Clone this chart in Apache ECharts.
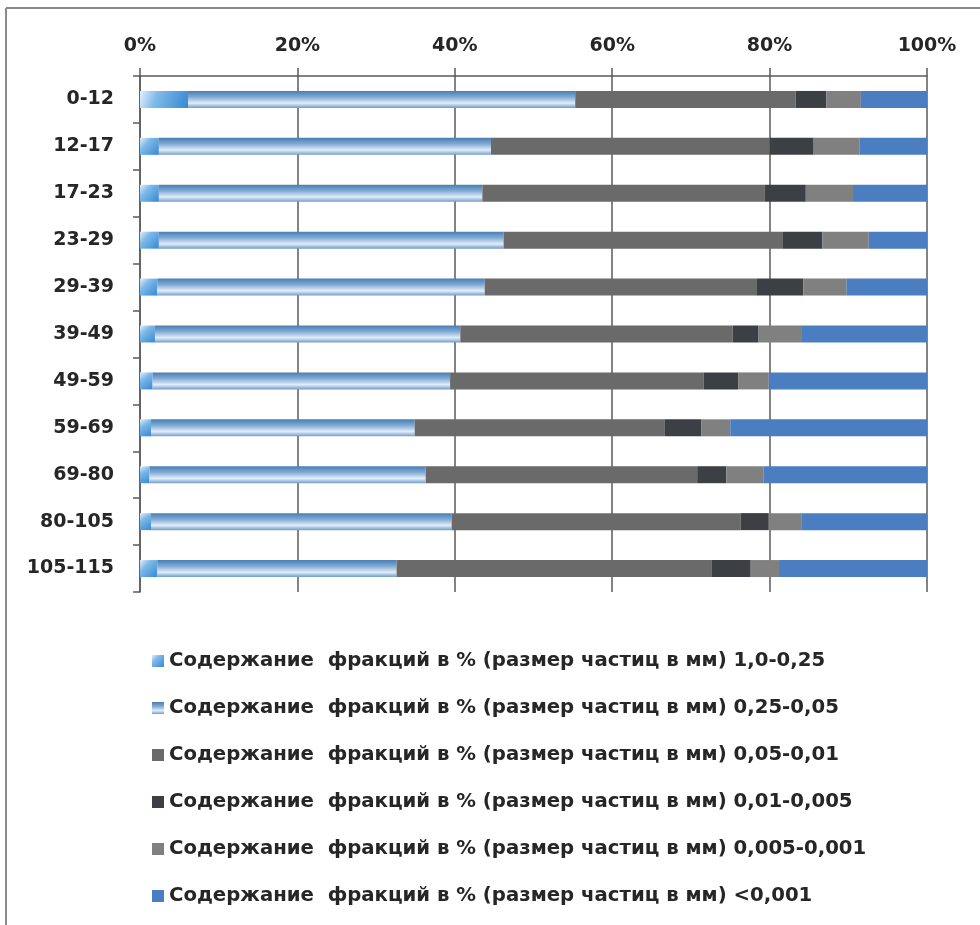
<!DOCTYPE html>
<html>
<head>
<meta charset="utf-8">
<script src="https://cdn.jsdelivr.net/npm/echarts@6/dist/echarts.min.js"></script>
<style>
  html, body { margin: 0; padding: 0; background: #ffffff; }
  #chart { width: 980px; height: 925px; }
</style>
</head>
<body>
<div id="chart"></div>
<script>
// Depth intervals (cm)
const depths = ['0-12', '12-17', '17-23', '23-29', '29-39', '39-49', '49-59', '59-69', '69-80', '80-105', '105-115'];

// Particle-size fractions, % of sample
const frac_1_0_025    = [6.1, 2.4, 2.4, 2.4, 2.2, 1.9, 1.6, 1.4, 1.2, 1.4, 2.2];
const frac_025_005    = [49.2, 42.2, 41.1, 43.8, 41.6, 38.8, 37.8, 33.5, 35.1, 38.2, 30.4];
const frac_005_001    = [28.0, 35.4, 35.9, 35.5, 34.6, 34.6, 32.2, 31.8, 34.5, 36.7, 40.0];
const frac_001_0005   = [3.9, 5.6, 5.2, 5.0, 5.9, 3.3, 4.4, 4.6, 3.7, 3.6, 5.0];
const frac_0005_0001  = [4.4, 5.8, 6.0, 5.9, 5.5, 5.4, 3.9, 3.7, 4.7, 4.2, 3.6];
const frac_lt_0001    = [8.4, 8.6, 9.4, 7.4, 10.2, 16.0, 20.1, 25.0, 20.8, 15.9, 18.8];

const seriesNames = [
  'Содержание  фракций в % (размер частиц в мм) 1,0-0,25',
  'Содержание  фракций в % (размер частиц в мм) 0,25-0,05',
  'Содержание  фракций в % (размер частиц в мм) 0,05-0,01',
  'Содержание  фракций в % (размер частиц в мм) 0,01-0,005',
  'Содержание  фракций в % (размер частиц в мм) 0,005-0,001',
  'Содержание  фракций в % (размер частиц в мм) <0,001'
];
const xTicks = [0, 20, 40, 60, 80, 100];

const FONT = 'DejaVu Sans';

const coarseFill = new echarts.graphic.LinearGradient(0, 0, 1, 1, [
  { offset: 0, color: '#e4effa' },
  { offset: 0.35, color: '#7db9e8' },
  { offset: 1, color: '#3888d2' }
]);
const fineSandFill = new echarts.graphic.LinearGradient(0, 0, 0, 1, [
  { offset: 0, color: '#4a7db3' },
  { offset: 0.35, color: '#7ea9d4' },
  { offset: 0.72, color: '#e2edf8' },
  { offset: 1, color: '#6f9ccb' }
]);

const fills = [coarseFill, fineSandFill, '#6a6a6a', '#3c3f43', '#808080', '#4a7ec0'];
const dataSets = [frac_1_0_025, frac_025_005, frac_005_001, frac_001_0005, frac_0005_0001, frac_lt_0001];

const chart = echarts.init(document.getElementById('chart'), null, { renderer: 'canvas' });

chart.setOption({
  backgroundColor: '#ffffff',
  animation: false,
  textStyle: { fontFamily: FONT },
  grid: { left: 140, right: 53, top: 76, bottom: 333, containLabel: false },
  xAxis: {
    type: 'value',
    position: 'top',
    min: xTicks[0],
    max: xTicks[xTicks.length - 1],
    interval: 20,
    axisLine: { show: true, lineStyle: { color: '#5a5a5a', width: 1.5 } },
    axisTick: { show: true, length: 8, lineStyle: { color: '#5a5a5a', width: 1.5 } },
    axisLabel: { formatter: '{value}%', color: '#262626', fontSize: 19, fontWeight: 'bold', fontFamily: FONT, margin: 20 },
    splitLine: { show: true, lineStyle: { color: '#5a5a5a', width: 1.5 } }
  },
  yAxis: {
    type: 'category',
    inverse: true,
    data: depths,
    axisLine: { show: true, lineStyle: { color: '#5a5a5a', width: 1.5 } },
    axisTick: { show: true, length: 7, lineStyle: { color: '#5a5a5a', width: 1.5 } },
    axisLabel: { color: '#262626', fontSize: 19, fontWeight: 'bold', fontFamily: FONT, margin: 26 }
  },
  legend: {
    orient: 'vertical',
    left: 147,
    top: 646,
    itemWidth: 12,
    itemHeight: 12,
    itemGap: 27,
    icon: 'rect',
    textStyle: { color: '#262626', fontSize: 19.7, fontWeight: 'bold', fontFamily: FONT, lineHeight: 20 },
    data: seriesNames
  },
  graphic: [
    { type: 'line', shape: { x1: 6, y1: 8, x2: 980, y2: 8 }, style: { stroke: '#8a8a8a', lineWidth: 2 } },
    { type: 'line', shape: { x1: 6, y1: 8, x2: 6, y2: 925 }, style: { stroke: '#8a8a8a', lineWidth: 2 } }
  ],
  series: dataSets.map((vals, i) => ({
    name: seriesNames[i],
    type: 'bar',
    stack: 'total',
    barWidth: 17,
    itemStyle: { color: fills[i] },
    data: vals
  }))
});
</script>
</body>
</html>
